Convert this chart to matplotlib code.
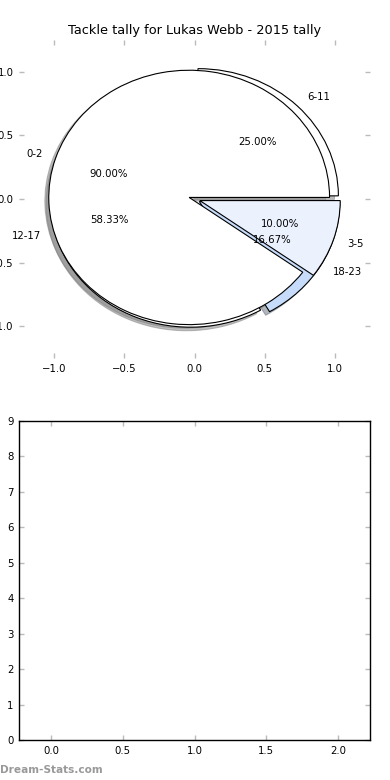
import matplotlib
matplotlib.use('Agg')
import matplotlib.pyplot as plt

title = "Tackle tally for Lukas Webb - 2015 tally"
labels_a = ["0-2", "3-5"]
counts_a = [9, 1]
labels_b = ["6-11", "12-17", "18-23"]
counts_b = [3, 7, 2]
colors_a = ["#ffffff", "#ebf2fe"]
colors_b = ["#ffffff", "#ffffff", "#c7dbfa"]
explode_a = [0.04, 0.04]
explode_b = [0.035, 0.03, 0.04]
pie_ticks = [-1.0, -0.5, 0.0, 0.5, 1.0]
bar_xticks = [0.0, 0.5, 1.0, 1.5, 2.0]
bar_yticks = list(range(10))

FS = 7.3
TICKC = '#bbbbbb'

fig = plt.figure(figsize=(3.9, 7.8), dpi=100)
ax1 = fig.add_axes([19/390, 1 - 358/780, 351/390, 318/780])
ax2 = fig.add_axes([19/390, 40/780, 351/390, 319/780])

wp = dict(edgecolor='black', linewidth=0.8)
tp = dict(fontsize=FS)
shd = dict(ox=-0.02, oy=-0.02, shade=0.5)
ax1.pie(counts_b, labels=labels_b, colors=colors_b, explode=explode_b,
        autopct='%.2f%%', shadow=shd, frame=True, wedgeprops=wp, textprops=tp)
ax1.pie(counts_a, labels=labels_a, colors=colors_a, explode=explode_a,
        autopct='%.2f%%', shadow=shd, frame=True, wedgeprops=wp, textprops=tp)
ax1.set_aspect('auto')
ax1.set_xlim(-1.25, 1.25)
ax1.set_ylim(-1.25, 1.25)
for s in ax1.spines.values():
    s.set_visible(False)
ax1.set_xticks(pie_ticks)
ax1.set_yticks(pie_ticks)
ax1.tick_params(direction='in', length=3.5, width=1, color=TICKC,
                top=True, right=True, labelsize=FS, pad=4)
ax1.set_title(title, fontsize=9.3, pad=4)

ax2.set_xlim(-0.225, 2.225)
ax2.set_ylim(0, 9)
ax2.set_xticks(bar_xticks)
ax2.set_yticks(bar_yticks)
for s in ax2.spines.values():
    s.set_color('black')
    s.set_linewidth(1.0)
ax2.tick_params(direction='in', length=3.5, width=1, color=TICKC,
                top=True, right=True, labelsize=FS, pad=4)

fig.text(0.0, 10/780, "Dream-Stats.com", fontsize=7.6, color='#999999',
         fontweight='bold', ha='left', va='center')

fig.savefig('out.png', dpi=100)
